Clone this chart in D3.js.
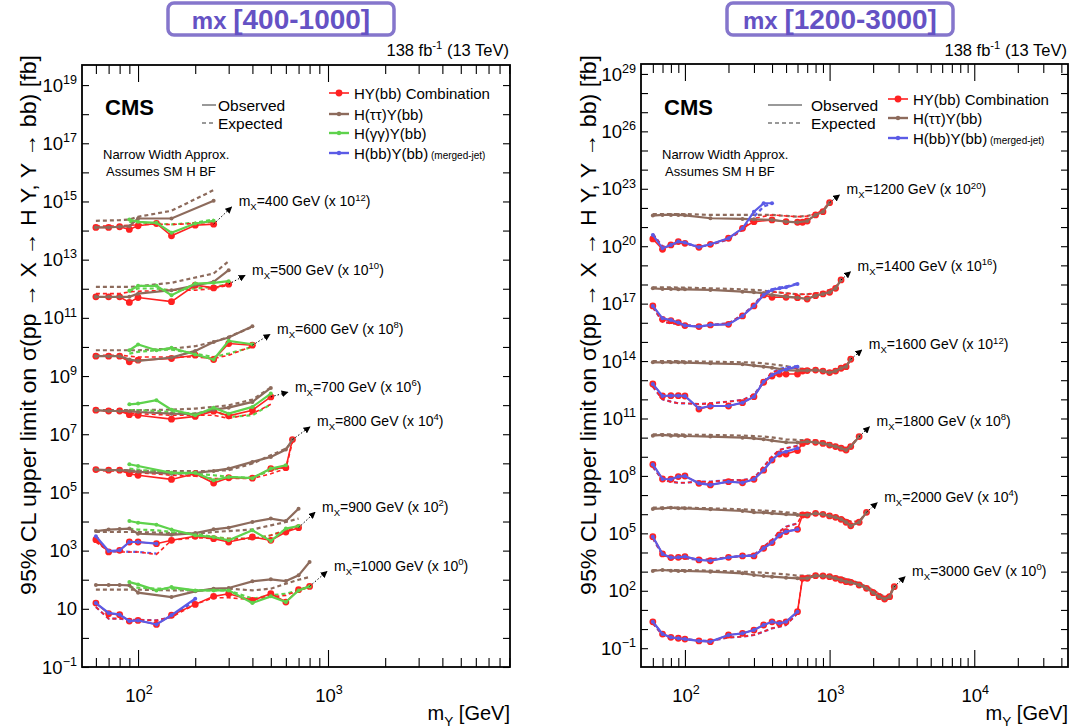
<!DOCTYPE html>
<html>
<head>
<meta charset="utf-8">
<script src="https://d3js.org/d3.v7.min.js"></script>
<style>
  body { margin:0; background:#fff; }
  svg { font-family: "Liberation Sans", Arial, sans-serif; }
</style>
</head>
<body>
<div class="chart"></div>
<script>
// rows are [mY (GeV), observed limit (fb), expected limit (fb)]
// ---- left panel, mX 400-1000 ----
const comb400 = [[60,128,142],[70,128,142],[80,135,146],[90,109,153],[100,146,158],[125,175,166],[150,66,162],[200,153,175],[250,166,200]];
const tt400 = [[60,128,216],[70,128,222],[80,135,228],[90,142,240],[100,260,297],[150,260,478],[250,1050,2455]];
const gg400 = [[90,240,200],[100,200,190],[125,185,175],[150,84,162],[200,175,185],[250,216,240]];

const comb500 = [[60,53,68],[70,53,68],[80,53,68],[90,34,78],[100,50,82],[150,36,89],[200,133,89],[250,107,102],[300,144,133]];
const tt500 = [[60,53,116],[70,53,116],[80,53,116],[90,53,116],[100,68,122],[150,89,160],[250,173,334],[300,435,887]];
const gg500 = [[90,85,78],[100,126,102],[125,126,102],[150,60,89],[200,151,102],[250,160,116],[300,182,144]];

const comb600 = [[60,48,52],[70,48,52],[80,48,52],[90,31,48],[100,35,45],[150,40,45],[200,52,45],[250,37,40],[300,131,52],[400,115,106]];
const tt600 = [[60,48,77],[70,48,77],[80,48,77],[90,37,77],[100,33,77],[150,43,88],[200,73,106],[250,149,149],[300,210,222],[400,516,490]];
const gg600 = [[90,77,59],[100,121,68],[125,77,77],[150,93,81],[200,55,59],[250,37,45],[300,162,59],[400,124,100]];

const comb700 = [[60,67,67],[70,63,63],[80,63,62],[90,47,54],[100,45,51],[150,33,45],[200,41,45],[250,62,45],[300,43,35],[400,67,51],[500,192,107]];
const tt700 = [[60,67,67],[70,63,67],[80,63,67],[90,62,67],[100,58,67],[150,51,70],[200,49,76],[250,70,87],[300,82,99],[400,129,155],[500,391,402]];
const gg700 = [[90,107,67],[100,113,67],[125,147,63],[150,70,58],[200,45,51],[250,82,67],[300,51,39],[400,87,45],[500,250,107]];

const comb800 = [[60,61,58],[70,58,55],[80,58,54],[90,44,51],[100,39,48],[150,28,39],[200,44,36],[250,21,30],[300,32,30],[400,31,30],[500,66,44],[600,71,66],[650,655,543]];
const tt800 = [[60,61,58],[70,58,58],[80,58,58],[90,55,58],[100,51,55],[150,44,54],[200,47,54],[250,55,55],[300,66,58],[400,112,98],[500,166,189],[600,297,321],[650,655,543]];
const gg800 = [[90,93,66],[100,81,61],[150,47,44],[200,47,44],[250,26,39],[300,34,34],[400,31,32],[500,66,58],[600,86,75]];

const comb900 = [[60,23.8,19.8],[70,9.0,9.7],[80,10.2,9.0],[90,19.8,9.0],[100,19.8,9.0],[125,17.3,7.4],[150,22.6,22.6],[200,31,27.9],[250,25.8,25.8],[300,19.8,25.8],[400,29.4,25.8],[500,22.6,33.6],[600,43.6,49.9],[700,61.5,64.9]];
const tt900 = [[60,47,43.6],[70,53,43.6],[80,55,43.6],[90,57,43.6],[100,38,43.6],[150,35,40],[200,40,38],[250,54,43.6],[300,61.5,47],[400,96,53],[500,126,74],[600,104,96],[700,277,126]];
const gg900 = [[90,104,57],[100,91,53],[125,78,49.9],[150,53,43.6],[200,33.6,38],[250,29.4,29.4],[300,22.6,25.8],[400,49.9,25.8],[500,21.4,33.6],[600,57,49.9],[700,70,64.9]];
const bb900 = [[60,31,22.6],[70,9.7,9.0],[80,10.2,9.7],[90,19.8,9.0],[100,19.8,9.0],[125,17.3,7.9]];

const comb1000 = [[60,15.8,11.5],[70,6.8,4.6],[80,6.3,4.6],[90,3.8,4.2],[100,4.0,4.2],[125,2.9,4.0],[150,6.0,5.2],[200,14.2,14.2],[250,26.8,24],[300,33,24],[400,19.5,20.6],[500,33,25.4],[600,17.1,29],[700,45.4,43],[800,59,56]];
const tt1000 = [[60,65.8,45.4],[70,65.8,45.4],[80,65.8,45.4],[90,64,45.4],[100,35.8,45.4],[150,25.4,43],[200,39.8,43],[250,49.2,45.4],[300,51.9,49.2],[400,88,43],[500,103,49.2],[600,90,73],[700,141,100],[800,406,124]];
const gg1000 = [[90,83,56],[100,69,53],[125,43,49.2],[150,56,49.2],[200,43,43],[250,43,43],[300,43,43],[400,15.8,22.3],[500,26.8,29],[600,17.1,33],[700,43,43],[800,59,59]];
const bb1000 = [[60,15.8,11.5],[70,7.2,4.6],[80,6.3,4.6],[90,3.8,4.2],[100,4.0,4.2],[125,2.9,4.0],[150,6.0,5.2],[200,22.3,19.5]];

// ---- right panel, mX 1200-3000 ----
const bb1200 = [[60,3.9,4.4],[70,0.78,0.95],[80,1.16,1.16],[90,1.74,1.54],[100,1.54,1.42],[125,0.88,0.95],[150,1.26,1.16],[200,2.6,2.3],[250,8.6,7.1],[300,64,35],[350,175,117],[400,175,175]];
const comb1200 = [[60,2.4,4.4],[70,0.69,0.95],[80,1.16,1.16],[90,1.74,1.54],[100,1.42,1.42],[125,0.88,0.95],[150,1.26,1.16],[200,2.6,2.3],[250,8.6,7.1],[300,19.2,28.8],[400,23.5,43],[500,19.2,38],[600,17.8,35],[650,17.8,35],[700,20.8,38],[800,43,48],[900,64,78],[1000,189,189]];
const tt1200 = [[60,39.6,48],[70,43,48],[80,43,48],[90,43,48],[100,41,48],[150,28.8,43],[250,26.5,43],[300,25.5,43],[400,23.5,43],[500,19.2,38],[600,17.8,35],[700,20.8,38],[800,43,48],[900,64,78],[1000,189,189]];

const bb1400 = [[60,7.6,6.4],[70,1.71,1.15],[80,1.40,0.94],[90,1.02,0.87],[100,0.71,0.77],[125,0.63,0.63],[150,0.77,0.77],[200,0.83,0.94],[250,2.27,2.56],[300,7.6,8.5],[350,28.4,35],[400,52,56],[450,63,69],[500,71,77],[600,107,116]];
const comb1400 = [[60,7.6,6.4],[70,1.52,1.15],[80,1.29,0.94],[90,1.02,0.87],[100,0.71,0.77],[125,0.63,0.63],[150,0.77,0.77],[200,0.83,0.94],[250,2.27,2.56],[300,7.6,8.5],[350,28.4,35],[400,21.4,42],[500,21.4,35],[600,20.6,31],[700,17.5,31],[800,26.2,35],[900,32,39],[1000,39,52],[1100,63,77],[1200,173,173]];
const tt1400 = [[60,63,71],[70,58,71],[80,58,71],[90,56,69],[100,56,69],[150,52,63],[250,42,56],[300,39,52],[350,35,48],[400,28.4,42],[500,23,35],[600,20.6,31],[700,17.5,31],[800,26.2,35],[900,32,39],[1000,39,52],[1100,63,77],[1200,173,173]];

const bb1600 = [[60,6.4,4.6],[70,1.5,1.0],[80,1.56,0.76],[90,1.56,0.62],[100,1.5,0.62],[125,0.34,0.57],[150,0.45,0.62],[200,0.45,0.76],[250,0.67,0.93],[300,1.38,1.69],[350,8.4,8.4],[400,18.8,25],[450,28,39],[500,37,47],[600,51,55]];
const comb1600 = [[60,6.4,4.6],[70,1.5,1.0],[80,1.56,0.76],[90,1.56,0.62],[100,1.5,0.62],[125,0.31,0.57],[150,0.45,0.62],[200,0.45,0.76],[250,0.67,0.93],[300,1.38,1.69],[350,7.8,8.4],[400,16.6,25],[450,21,34],[500,21,42],[600,21,42],[650,30,39],[700,32,37],[800,34,34],[900,30,32],[1000,25,28],[1100,30,34],[1200,42,42],[1300,51,51],[1400,124,124]];
const tt1600 = [[60,86,101],[70,86,101],[80,86,101],[90,86,101],[100,83,97],[150,76,93],[250,68,86],[300,58,83],[350,51,76],[400,45,68],[500,34,55],[600,32,42],[700,32,37],[800,34,34],[900,30,32],[1000,25,28],[1100,30,34],[1200,42,42],[1300,51,51],[1400,124,124]];

const bb1800 = [[60,4.0,3.0],[70,0.69,0.61],[80,0.67,0.50],[90,0.92,0.44],[100,0.99,0.44],[125,0.41,0.50],[150,0.34,0.50],[200,0.50,0.61],[250,0.44,0.61],[300,0.67,0.75],[350,2.0,3.0],[400,6.8,10.2],[450,15.2,22.6],[500,18.5,28],[600,28,37]];
const comb1800 = [[60,4.0,3.0],[70,0.69,0.61],[80,0.67,0.50],[90,0.92,0.44],[100,0.99,0.44],[125,0.41,0.50],[150,0.34,0.50],[200,0.50,0.61],[250,0.44,0.61],[300,0.67,0.75],[350,2.0,3.0],[400,6.8,10.2],[450,14,22.6],[500,14,28],[600,21,37],[650,50,55],[700,62,75],[800,57,70],[900,50,62],[1000,41,50],[1100,34,41],[1200,28,34],[1300,22.6,28],[1400,34,37],[1600,113,113]];
const tt1800 = [[60,127,149],[70,138,149],[80,127,149],[90,127,149],[100,122,143],[150,113,138],[250,100,127],[300,92,122],[350,82,113],[400,70,104],[500,57,82],[600,55,75],[700,62,75],[800,57,70],[900,50,62],[1000,41,50],[1100,34,41],[1200,28,34],[1300,22.6,28],[1400,34,37],[1600,113,113]];

const bb2000 = [[60,6.7,5.5],[70,0.84,0.74],[80,0.54,0.56],[90,0.56,0.50],[100,0.61,0.50],[125,0.41,0.41],[150,0.37,0.44],[200,0.56,0.56],[250,0.66,0.66],[300,0.66,0.74],[350,1.65,2.0],[400,3.3,4.5],[450,8.2,12.3],[500,12.3,22.4],[600,16.2,33]];
const comb2000 = [[60,6.7,5.5],[70,0.84,0.74],[80,0.54,0.56],[90,0.56,0.50],[100,0.61,0.50],[125,0.41,0.41],[150,0.37,0.44],[200,0.56,0.56],[250,0.66,0.66],[300,0.66,0.74],[350,1.65,2.0],[400,3.3,4.5],[450,8.2,12.3],[500,12.3,22.4],[600,16.2,33],[650,91,111],[700,91,111],[800,111,111],[900,99,99],[1000,81,91],[1100,69,81],[1200,54,69],[1300,38,50],[1400,25,41],[1600,38,41],[1800,126,126]];
const tt2000 = [[60,187,220],[70,203,220],[80,220,220],[90,203,220],[100,203,220],[150,180,203],[250,147,180],[300,126,166],[350,121,153],[400,111,147],[500,99,126],[600,91,111],[700,91,111],[800,111,111],[900,99,99],[1000,81,91],[1100,69,81],[1200,54,69],[1300,38,50],[1400,25,41],[1600,38,41],[1800,126,126]];

const bb3000 = [[60,2.4,2.0],[70,0.55,0.49],[80,0.37,0.33],[90,0.33,0.33],[100,0.30,0.30],[125,0.24,0.25],[150,0.22,0.24],[200,0.49,0.36],[250,0.60,0.40],[300,0.89,0.49],[350,1.63,0.73],[400,2.4,1.09],[450,2.0,1.33],[500,2.4,1.63],[600,8.1,6.6]];
const comb3000 = [[60,2.4,2.0],[70,0.55,0.49],[80,0.37,0.33],[90,0.33,0.33],[100,0.30,0.30],[125,0.24,0.25],[150,0.22,0.24],[200,0.49,0.36],[250,0.60,0.40],[300,0.89,0.49],[350,1.63,0.73],[400,2.4,1.09],[450,2.0,1.33],[500,2.4,1.63],[600,8.1,6.6],[650,447,546],[700,447,592],[800,617,617],[900,592,617],[1000,546,592],[1100,447,546],[1200,366,505],[1300,299,413],[1400,276,366],[1600,200,245],[1800,134,164],[2000,80,110],[2200,49,68],[2400,37,49],[2600,49,60],[2800,164,178]];
const tt3000 = [[60,1081,1219],[70,1219,1219],[80,1125,1219],[90,1081,1219],[100,1081,1219],[150,998,1125],[250,817,998],[300,668,920],[350,592,883],[400,546,817],[500,484,723],[600,447,617],[700,447,617],[800,617,617],[900,592,617],[1000,546,592],[1100,447,546],[1200,366,505],[1300,299,413],[1400,276,366],[1600,200,245],[1800,134,164],[2000,80,110],[2200,49,68],[2400,37,49],[2600,49,60],[2800,164,178]];

// masses, scale exponents and where the label arrows point (mY, plotted value)
const massL = [400,500,600,700,800,900,1000];
const scaleL = [12,10,8,6,4,2,0];
const tipL = [[311,6.5e14],[366,2.9e12],[495,2.7e10],[615,2.8e8],[804,1.8e7],[855,2.1e4],[988,194]];
const massR = [1200,1400,1600,1800,2000,3000];
const scaleR = [20,16,12,8,4,0];
const tipR = [[1172,4.8e22],[1396,4.7e18],[1670,3.8e14],[1888,3.7e10],[2133,4.0e6],[3327,545]];

const yLabL = [19,17,15,13,11,9,7,5,3,1,-1];
const yLabR = [29,26,23,20,17,14,11,8,5,2,-1];
const xLabL = [2,3];
const xLabR = [2,3,4];

const groupsL = [
  {comb:comb400, tt:tt400, gg:gg400},
  {comb:comb500, tt:tt500, gg:gg500},
  {comb:comb600, tt:tt600, gg:gg600},
  {comb:comb700, tt:tt700, gg:gg700},
  {comb:comb800, tt:tt800, gg:gg800},
  {comb:comb900, tt:tt900, gg:gg900, bb:bb900},
  {comb:comb1000, tt:tt1000, gg:gg1000, bb:bb1000}
];
const groupsR = [
  {comb:comb1200, tt:tt1200, bb:bb1200},
  {comb:comb1400, tt:tt1400, bb:bb1400},
  {comb:comb1600, tt:tt1600, bb:bb1600},
  {comb:comb1800, tt:tt1800, bb:bb1800},
  {comb:comb2000, tt:tt2000, bb:bb2000},
  {comb:comb3000, tt:tt3000, bb:bb3000}
];

const colors = {comb:'#ff2121', tt:'#8d6b5c', gg:'#5ed24c', bb:'#5b5be6'};
const purple = '#6552c4';

const svg = d3.select('.chart').append('svg')
  .attr('width', 1080)
  .attr('height', 728);

svg.append('defs').append('marker')
  .attr('id', 'ah')
  .attr('viewBox', '0 0 10 10')
  .attr('refX', 9).attr('refY', 5)
  .attr('markerWidth', 7).attr('markerHeight', 7)
  .attr('markerUnits', 'userSpaceOnUse')
  .attr('orient', 'auto')
  .append('path').attr('d', 'M0,0L10,5L0,10z').attr('fill', '#000');

// text with sub/superscripts
function rich(sel, parts, size) {
  let shift = 0;
  parts.forEach(p => {
    const target = p.sup ? -size * 0.42 : p.sub ? size * 0.28 : 0;
    sel.append('tspan')
      .attr('dy', target - shift)
      .style('font-size', (p.sup || p.sub ? size * 0.68 : size) + 'px')
      .text(p.t);
    shift = target;
  });
}

const panels = [
  {x0:82, x1:510, y0:65, y1:667, xDom:[50.7, 9080], yDom:[0.1, 4.9e19],
   masses:massL, scales:scaleL, tips:tipL, groups:groupsL, yLab:yLabL, xLab:xLabL,
   range:'[400-1000]', box:[168,394], legendX:329, obsX:202, obsW:14, keys:['comb','tt','gg','bb'], titleX:36},
  {x0:641, x1:1068, y0:64, y1:667, xDom:[49.7, 44460], yDom:[0.01042, 3.3e29],
   masses:massR, scales:scaleR, tips:tipR, groups:groupsR, yLab:yLabR, xLab:xLabR,
   range:'[1200-3000]', box:[727,953], legendX:888, obsX:768, obsW:34, keys:['comb','tt','bb'], titleX:596}
];

const legendNames = {comb:'HY(bb) Combination', tt:'H(\u03c4\u03c4)Y(bb)', gg:'H(\u03b3\u03b3)Y(bb)', bb:'H(bb)Y(bb)'};

panels.forEach(p => {
  const x = d3.scaleLog().domain(p.xDom).range([p.x0, p.x1]);
  const y = d3.scaleLog().domain(p.yDom).range([p.y1, p.y0]);
  const g = svg.append('g');

  // header box
  const bw = p.box[1] - p.box[0];
  g.append('rect')
    .attr('x', p.box[0]).attr('y', 3).attr('width', bw).attr('height', 32)
    .attr('rx', 6).attr('fill', '#fff').attr('stroke', '#8576cc').attr('stroke-width', 3.5);
  const ht = g.append('text')
    .attr('x', p.box[0] + bw / 2).attr('y', 29)
    .attr('text-anchor', 'middle').attr('fill', purple).style('font-weight', 'bold');
  ht.append('tspan').style('font-size', '24px').text('mx ');
  ht.append('tspan').style('font-size', '28px').text(p.range);

  const lumi = g.append('text').attr('x', p.x1 - 1).attr('y', 56)
    .attr('text-anchor', 'end').style('font-size', '16.5px');
  rich(lumi, [{t:'138 fb'}, {t:'-1', sup:true}, {t:' (13 TeV)'}], 16.5);

  // frame
  g.append('rect')
    .attr('x', p.x0).attr('y', p.y0).attr('width', p.x1 - p.x0).attr('height', p.y1 - p.y0)
    .attr('fill', 'none').attr('stroke', '#000').attr('stroke-width', 1.8);

  // ticks
  const majors = [], minors = [];
  [10, 100, 1000, 10000].forEach(d => {
    if (d * 10 > p.xDom[0] && d * 10 < p.xDom[1]) majors.push(d * 10);
    for (let m = 2; m <= 9; m++) {
      const v = d * m;
      if (v > p.xDom[0] * 1.03 && v < p.xDom[1]) minors.push(v);
    }
  });
  const decades = d3.range(Math.ceil(Math.log10(p.yDom[0])), Math.floor(Math.log10(p.yDom[1])) + 1).map(e => Math.pow(10, e));
  const tickAxes = [
    [d3.axisBottom(x).tickValues(majors).tickSize(-17), `translate(0,${p.y1})`],
    [d3.axisBottom(x).tickValues(minors).tickSize(-9), `translate(0,${p.y1})`],
    [d3.axisTop(x).tickValues(majors).tickSize(-17), `translate(0,${p.y0})`],
    [d3.axisTop(x).tickValues(minors).tickSize(-9), `translate(0,${p.y0})`],
    [d3.axisLeft(y).tickValues(decades).tickSize(-7), `translate(${p.x0},0)`],
    [d3.axisRight(y).tickValues(decades).tickSize(-7), `translate(${p.x1},0)`]
  ];
  tickAxes.forEach(([ax, tr]) => {
    const a = g.append('g').attr('transform', tr).call(ax.tickFormat(''));
    a.select('.domain').remove();
    a.selectAll('line').attr('stroke', '#000').attr('stroke-width', 1.1);
  });

  // tick labels
  p.yLab.forEach(e => {
    const t = g.append('text').attr('x', p.x0 - 5).attr('y', y(Math.pow(10, e)) + 6.6)
      .attr('text-anchor', 'end').style('font-size', '18.5px');
    if (e === 1) t.text('10');
    else rich(t, [{t:'10'}, {t:String(e).replace('-', '\u2212'), sup:true}], 18.5);
  });
  p.xLab.forEach(e => {
    const t = g.append('text').attr('x', x(Math.pow(10, e)) + 1).attr('y', 701.5)
      .attr('text-anchor', 'middle').style('font-size', '18.5px');
    rich(t, [{t:'10'}, {t:String(e), sup:true}], 18.5);
  });

  const xt = g.append('text').attr('x', p.x1).attr('y', 720)
    .attr('text-anchor', 'end').style('font-size', '20px');
  rich(xt, [{t:'m'}, {t:'Y', sub:true}, {t:' [GeV]'}], 20);

  g.append('text')
    .attr('transform', `translate(${p.titleX},55) rotate(-90)`)
    .attr('text-anchor', 'end').style('font-size', '21.5px')
    .attr('textLength', 540).attr('lengthAdjust', 'spacingAndGlyphs')
    .text('95% CL upper limit on \u03c3(pp \u2192 X \u2192 H Y, Y \u2192 bb) [fb]');

  // labels inside
  g.append('text').attr('x', p.x0 + 23).attr('y', 115)
    .style('font-size', '22px').style('font-weight', 'bold').text('CMS');
  g.append('text').attr('x', p.x0 + 21).attr('y', 159).style('font-size', '13px').text('Narrow Width Approx.');
  g.append('text').attr('x', p.x0 + 24).attr('y', 176).style('font-size', '13px').text('Assumes SM H BF');

  // observed / expected key
  [['Observed', null, 105], ['Expected', '4,3', 123]].forEach(([name, dash, ly]) => {
    g.append('line').attr('x1', p.obsX).attr('x2', p.obsX + p.obsW).attr('y1', ly).attr('y2', ly)
      .attr('stroke', '#999').attr('stroke-width', 2).attr('stroke-dasharray', dash);
    g.append('text').attr('x', p.obsX + p.obsW + (p.obsW > 20 ? 9 : 2)).attr('y', ly + 5.5)
      .style('font-size', '15.5px').text(name);
  });

  // channel key
  const ly0 = p.keys.length === 4 ? [93, 114, 133, 153] : [99, 118, 138];
  p.keys.forEach((k, i) => {
    const ly = ly0[i];
    g.append('line').attr('x1', p.legendX).attr('x2', p.legendX + 20).attr('y1', ly).attr('y2', ly)
      .attr('stroke', colors[k]).attr('stroke-width', k === 'comb' ? 1.6 : 2.4);
    g.append('circle').attr('cx', p.legendX + 10).attr('cy', ly).attr('r', k === 'comb' ? 3.4 : 2.2)
      .attr('fill', colors[k]);
    const t = g.append('text').attr('x', p.legendX + 25).attr('y', ly + 5.5).style('font-size', '15px');
    t.append('tspan').text(legendNames[k]);
    if (k === 'bb') t.append('tspan').style('font-size', '10px').text('  (merged-jet)');
  });

  // curves
  p.groups.forEach((grp, i) => {
    const k = Math.pow(10, p.scales[i]);
    const lineObs = d3.line().x(d => x(d[0])).y(d => y(d[1] * k));
    const lineExp = d3.line().x(d => x(d[0])).y(d => y(d[2] * k));
    const chans = ['tt', 'gg', 'bb', 'comb'].filter(c => grp[c]);
    chans.forEach(c => {
      g.append('path').datum(grp[c]).attr('d', lineExp).attr('fill', 'none')
        .attr('stroke', colors[c]).attr('stroke-width', c === 'comb' ? 1.6 : 2.2)
        .attr('stroke-dasharray', '4,3');
    });
    ['comb', 'tt', 'gg', 'bb'].filter(c => grp[c]).forEach(c => {
      g.append('path').datum(grp[c]).attr('d', lineObs).attr('fill', 'none')
        .attr('stroke', colors[c]).attr('stroke-width', c === 'comb' ? 1.6 : 2.2);
      g.selectAll(null).data(grp[c]).enter().append('circle')
        .attr('cx', d => x(d[0])).attr('cy', d => y(d[1] * k))
        .attr('r', c === 'comb' ? 3.4 : 2)
        .attr('fill', colors[c]);
    });

    // arrow + label
    const last = grp.comb[grp.comb.length - 1];
    const tip = p.tips[i];
    g.append('line')
      .attr('x1', x(last[0])).attr('y1', y(last[1] * k))
      .attr('x2', x(tip[0])).attr('y2', y(tip[1]))
      .attr('stroke', '#000').attr('stroke-width', 1).attr('stroke-dasharray', '1.5,2')
      .attr('marker-end', 'url(#ah)');
    const lt = g.append('text').attr('x', x(tip[0]) + 7).attr('y', y(tip[1]) - 0.5)
      .style('font-size', '14px');
    rich(lt, [{t:'m'}, {t:'X', sub:true}, {t:'=' + p.masses[i] + ' GeV (x 10'}, {t:String(p.scales[i]), sup:true}, {t:')'}], 14);
  });
});
</script>
</body>
</html>
